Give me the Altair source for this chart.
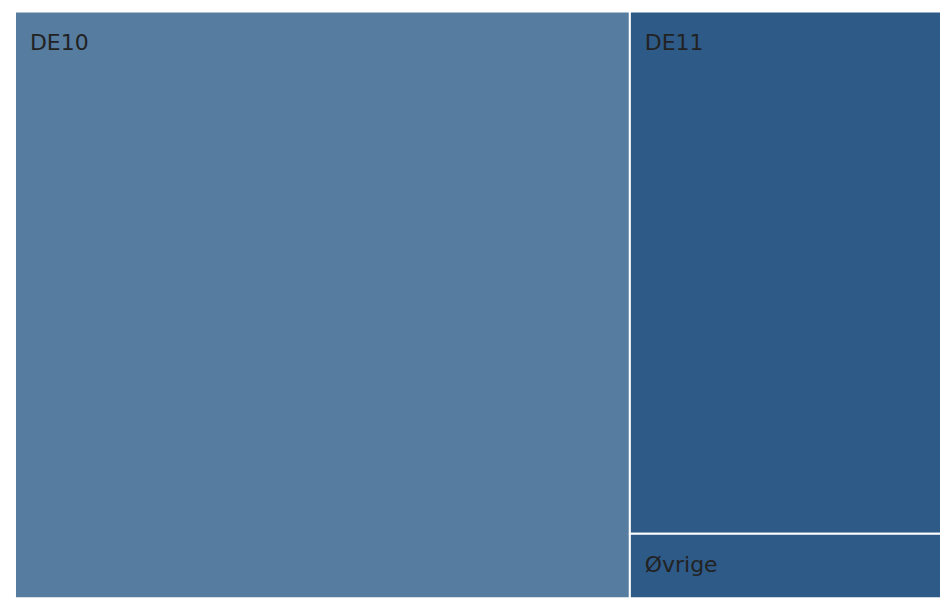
import altair as alt
import pandas as pd

# Data
names = ["DE10", "DE11", "Øvrige"]
values = [664, 299, 37]
columns = [0, 1, 1]          # slice-and-dice: first column DE10, second column DE11 + Øvrige
colors = ["#567ca0", "#2e5a88", "#2e5a88"]

# Build treemap layout (slice-and-dice) from the values
df = pd.DataFrame({"name": names, "value": values, "col": columns, "color": colors})
total = df["value"].sum()
col_sum = df.groupby("col")["value"].sum()
col_x0 = col_sum.cumsum() - col_sum
rows = []
for c, g in df.groupby("col", sort=True):
    cum = 0
    for _, r in g.iterrows():
        rows.append({
            "name": r["name"], "color": r["color"], "value": r["value"],
            "x0": col_x0[c] / total, "x1": (col_x0[c] + col_sum[c]) / total,
            "y0": cum / col_sum[c], "y1": (cum + r["value"]) / col_sum[c],
        })
        cum += r["value"]
layout = pd.DataFrame(rows)

xs = alt.Scale(domain=[0, 1], nice=False, zero=False)
ys = alt.Scale(domain=[0, 1], nice=False, zero=False, reverse=True)

base = alt.Chart(layout)

rects = base.mark_rect(stroke="white", strokeWidth=2).encode(
    x=alt.X("x0:Q", scale=xs, axis=None),
    x2="x1:Q",
    y=alt.Y("y0:Q", scale=ys, axis=None),
    y2="y1:Q",
    color=alt.Color("color:N", scale=None),
)

labels = base.mark_text(
    align="left", baseline="alphabetic", dx=15, dy=38,
    font="DejaVu Sans", fontSize=22, color="#222222",
).encode(
    x=alt.X("x0:Q", scale=xs, axis=None),
    y=alt.Y("y0:Q", scale=ys, axis=None),
    text="name:N",
)

chart = (rects + labels).properties(
    width=928, height=588,
    padding={"left": 6, "top": 2, "right": 0, "bottom": 0},
).configure_view(stroke=None)

chart.save("out.html", embed_options={"renderer": "svg", "actions": False})
